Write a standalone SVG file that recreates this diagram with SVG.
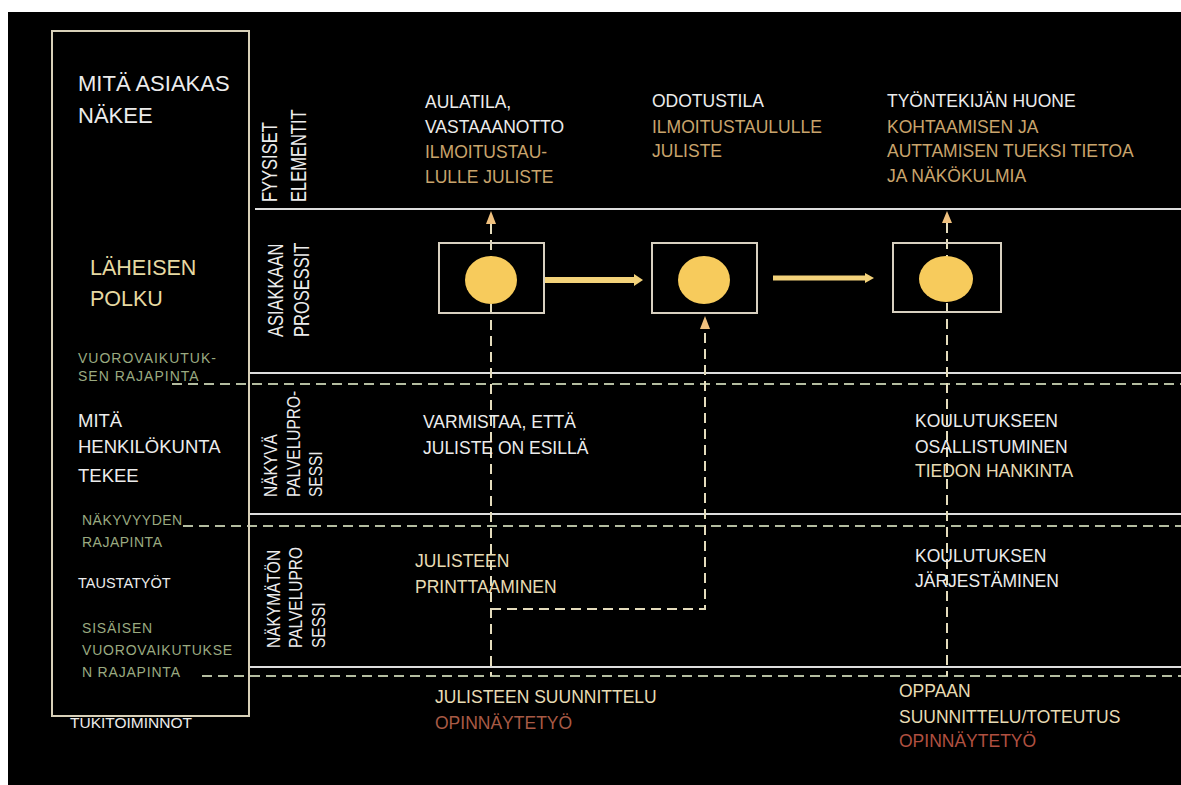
<svg xmlns="http://www.w3.org/2000/svg" width="1181" height="785" viewBox="0 0 1181 785">
<defs>
<style>
text{font-family:"Liberation Sans",Arial,sans-serif;}
.w{fill:#ececec;font-size:17.5px;}
.tan{fill:#c9a46c;font-size:17.5px;}
.cr{fill:#e8dcb4;font-size:17.5px;}
.red{fill:#a85a45;font-size:17.5px;}
.grn{fill:#9aaa80;font-size:14px;}
.lane{fill:#ececec;font-size:16.5px;}
.lane2{fill:#ececec;font-size:15.5px;}
.solid{stroke:#dedede;stroke-width:2;fill:none;}
.hd{stroke:#b4bca0;stroke-width:2;stroke-dasharray:10 6;fill:none;}
.vd{stroke:#e4dcbc;stroke-width:2;stroke-dasharray:10 6;fill:none;}
.box{stroke:#d8d0c0;stroke-width:2;fill:#000;}
.dot{fill:#f7cb5c;}
.flow{stroke:#f3d27a;stroke-width:6;fill:none;}
.tri{fill:#efc07e;}
</style>
</defs>
<rect x="0" y="0" width="1181" height="785" fill="#fff"/>
<rect x="8" y="12" width="1173" height="773" fill="#000"/>

<g id="lanes">
<line class="solid" x1="255" y1="209" x2="1181" y2="209"/>
<line class="solid" x1="249" y1="373" x2="1181" y2="373"/>
<line class="solid" x1="249" y1="514" x2="1181" y2="514"/>
<line class="solid" x1="249" y1="667" x2="1181" y2="667"/>
<line class="hd" x1="172" y1="384" x2="1181" y2="384"/>
<line class="hd" x1="183" y1="526" x2="1181" y2="526"/>
<line class="hd" x1="202" y1="676" x2="1181" y2="676"/>
</g>

<g id="left-panel">
<rect x="52" y="31" width="197" height="685" fill="none" stroke="#d8d0b8" stroke-width="2"/>
<text x="78" y="91" style="fill:#ececec;font-size:22px">MITÄ ASIAKAS</text>
<text x="78" y="123" style="fill:#ececec;font-size:22px">NÄKEE</text>
<text x="90" y="275" style="fill:#e6d9a2;font-size:21.5px">LÄHEISEN</text>
<text x="90" y="306" style="fill:#e6d9a2;font-size:21.5px">POLKU</text>
<text class="grn" x="78" y="363" letter-spacing="1">VUOROVAIKUTUK-</text>
<text class="grn" x="78" y="381" letter-spacing="1">SEN RAJAPINTA</text>
<text x="78" y="427" style="fill:#ececec;font-size:18.5px">MITÄ</text>
<text x="78" y="453" style="fill:#ececec;font-size:18.5px">HENKILÖKUNTA</text>
<text x="78" y="482" style="fill:#ececec;font-size:18.5px">TEKEE</text>
<text class="grn" x="82" y="525" letter-spacing="0.5">NÄKYVYYDEN</text>
<text class="grn" x="82" y="547" letter-spacing="0.5">RAJAPINTA</text>
<text x="78" y="588" style="fill:#ececec;font-size:14.5px">TAUSTATYÖT</text>
<text class="grn" x="82" y="633" letter-spacing="0.8">SISÄISEN</text>
<text class="grn" x="82" y="655" letter-spacing="0.8">VUOROVAIKUTUKSE</text>
<text class="grn" x="82" y="677" letter-spacing="0.8">N RAJAPINTA</text>
<text x="70" y="728" style="fill:#ececec;font-size:15.5px">TUKITOIMINNOT</text>
</g>

<g id="lane-labels">
<text class="lane" transform="translate(277,202) rotate(-90) scale(1,1.3)">FYYSISET</text>
<text class="lane" transform="translate(306,202) rotate(-90) scale(1,1.3)">ELEMENTIT</text>
<text class="lane" transform="translate(283,337) rotate(-90) scale(1,1.3)">ASIAKKAAN</text>
<text class="lane" transform="translate(309,337) rotate(-90) scale(1,1.3)">PROSESSIT</text>
<text class="lane2" transform="translate(277,497) rotate(-90) scale(1,1.15)">NÄKYVÄ</text>
<text class="lane2" transform="translate(300,497) rotate(-90) scale(1,1.15)">PALVELUPRO-</text>
<text class="lane2" transform="translate(322,497) rotate(-90) scale(1,1.15)">SESSI</text>
<text class="lane2" transform="translate(280,648) rotate(-90) scale(1,1.15)">NÄKYMÄTÖN</text>
<text class="lane2" transform="translate(302,648) rotate(-90) scale(1,1.15)">PALVELUPRO</text>
<text class="lane2" transform="translate(325,648) rotate(-90) scale(1,1.15)">SESSI</text>
</g>

<g id="connectors">
<line class="vd" x1="491" y1="224" x2="491" y2="676"/>
<polyline class="vd" points="491,609 705,609 705,328"/>
<line class="vd" x1="947" y1="223" x2="947" y2="676"/>
<polygon class="tri" points="491,211 486,224 496,224"/>
<polygon class="tri" points="705,316 700,329 710,329"/>
<polygon class="tri" points="947,211 942,223 952,223"/>
<line class="flow" x1="545" y1="280" x2="636" y2="280"/>
<polygon points="634,274 643,280 634,286" fill="#f3d27a"/>
<line class="flow" x1="773" y1="278" x2="867" y2="278" style="stroke-width:5"/>
<polygon points="865,273 874,278 865,283" fill="#f3d27a"/>
</g>

<g id="step1">
<rect class="box" x="439" y="243" width="105" height="70" style="fill:none"/>
<ellipse class="dot" cx="491" cy="280" rx="26" ry="24"/>
</g>
<g id="step2">
<rect class="box" x="652" y="243" width="105" height="70"/>
<ellipse class="dot" cx="704" cy="280" rx="26" ry="24"/>
</g>
<g id="step3">
<rect class="box" x="893" y="243" width="108" height="69" style="fill:none"/>
<ellipse class="dot" cx="946" cy="279" rx="27" ry="23"/>
</g>

<g id="physical-1">
<text class="w" x="425" y="108">AULATILA,</text>
<text class="w" x="425" y="133">VASTAAANOTTO</text>
<text class="tan" x="425" y="158">ILMOITUSTAU-</text>
<text class="tan" x="425" y="183">LULLE JULISTE</text>
</g>
<g id="physical-2">
<text class="w" x="652" y="107">ODOTUSTILA</text>
<text class="tan" x="652" y="133">ILMOITUSTAULULLE</text>
<text class="tan" x="652" y="157">JULISTE</text>
</g>
<g id="physical-3">
<text class="w" x="887" y="107">TYÖNTEKIJÄN HUONE</text>
<text class="tan" x="887" y="133">KOHTAAMISEN JA</text>
<text class="tan" x="887" y="157">AUTTAMISEN TUEKSI TIETOA</text>
<text class="tan" x="887" y="182">JA NÄKÖKULMIA</text>
</g>
<g id="visible-1">
<text class="w" x="423" y="428">VARMISTAA, ETTÄ</text>
<text class="w" x="423" y="454">JULISTE ON ESILLÄ</text>
</g>
<g id="visible-3">
<text class="w" x="915" y="427">KOULUTUKSEEN</text>
<text class="w" x="915" y="453">OSALLISTUMINEN</text>
<text class="cr" x="915" y="477">TIEDON HANKINTA</text>
</g>
<g id="backstage-1">
<text class="cr" x="415" y="567">JULISTEEN</text>
<text class="cr" x="415" y="593">PRINTTAAMINEN</text>
</g>
<g id="backstage-3">
<text class="w" x="915" y="562">KOULUTUKSEN</text>
<text class="w" x="915" y="587">JÄRJESTÄMINEN</text>
</g>
<g id="support-1">
<text class="cr" x="435" y="703">JULISTEEN SUUNNITTELU</text>
<text class="red" x="435" y="729">OPINNÄYTETYÖ</text>
</g>
<g id="support-3">
<text class="cr" x="899" y="697">OPPAAN</text>
<text class="cr" x="899" y="723">SUUNNITTELU/TOTEUTUS</text>
<text class="red" x="899" y="747" style="fill:#b05040">OPINNÄYTETYÖ</text>
</g>
</svg>
